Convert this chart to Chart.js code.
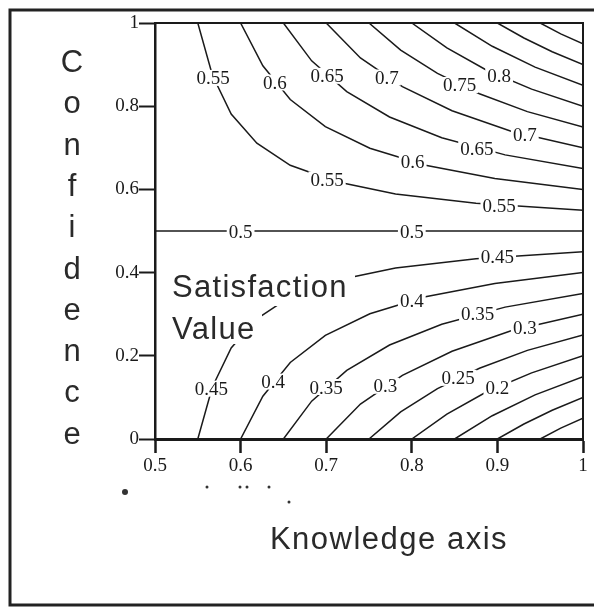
<!DOCTYPE html>
<html>
<head>
<meta charset="utf-8">
<title>Satisfaction Value contours</title>
<script src="https://cdn.jsdelivr.net/npm/chart.js@4.4.1/dist/chart.umd.min.js"></script>
<style>
  html, body { margin: 0; padding: 0; background: #fff; }
  canvas { display: block; }
</style>
</head>
<body>
<canvas id="chart" width="594" height="607"></canvas>
<script>
// Axis ticks
const xTicks = [0.5, 0.6, 0.7, 0.8, 0.9, 1];
const yTicks = [0, 0.2, 0.4, 0.6, 0.8, 1];

// Contour lines, [knowledge, confidence]
const line95 = [[0.95, 1], [0.974, 0.974], [1, 0.95]];
const line90 = [[0.9, 1], [0.931, 0.964], [0.964, 0.931], [1, 0.9]];
const line85 = [[0.85, 1], [0.894, 0.944], [0.944, 0.894], [1, 0.85]];
const line80 = [[0.8, 1], [0.841, 0.94], [0.887, 0.887], [0.94, 0.841], [1, 0.8]];
const line75 = [[0.75, 1], [0.787, 0.935], [0.83, 0.879], [0.879, 0.83], [0.935, 0.787], [1, 0.75]];
const line70 = [[0.7, 1], [0.74, 0.916], [0.789, 0.847], [0.847, 0.789], [0.916, 0.74], [1, 0.7]];
const line65 = [[0.65, 1], [0.683, 0.909], [0.724, 0.835], [0.774, 0.774], [0.835, 0.724], [0.909, 0.683], [1, 0.65]];
const line60 = [[0.6, 1], [0.626, 0.897], [0.658, 0.816], [0.699, 0.751], [0.751, 0.699], [0.816, 0.658], [0.897, 0.626], [1, 0.6]];
const line55 = [[0.55, 1], [0.567, 0.875], [0.589, 0.781], [0.619, 0.711], [0.658, 0.658], [0.711, 0.619], [0.781, 0.589], [0.875, 0.567], [1, 0.55]];
const line50 = [[0.5, 0.5], [1, 0.5]];
const line45 = [[0.55, 0], [0.567, 0.125], [0.589, 0.219], [0.619, 0.289], [0.658, 0.342], [0.711, 0.381], [0.781, 0.411], [0.875, 0.433], [1, 0.45]];
const line40 = [[0.6, 0], [0.626, 0.103], [0.658, 0.184], [0.699, 0.249], [0.751, 0.301], [0.816, 0.342], [0.897, 0.374], [1, 0.4]];
const line35 = [[0.65, 0], [0.683, 0.091], [0.724, 0.165], [0.774, 0.226], [0.835, 0.276], [0.909, 0.317], [1, 0.35]];
const line30 = [[0.7, 0], [0.74, 0.084], [0.789, 0.153], [0.847, 0.211], [0.916, 0.26], [1, 0.3]];
const line25 = [[0.75, 0], [0.787, 0.065], [0.83, 0.121], [0.879, 0.17], [0.935, 0.213], [1, 0.25]];
const line20 = [[0.8, 0], [0.841, 0.06], [0.887, 0.113], [0.94, 0.159], [1, 0.2]];
const line15 = [[0.85, 0], [0.894, 0.056], [0.944, 0.106], [1, 0.15]];
const line10 = [[0.9, 0], [0.931, 0.036], [0.964, 0.069], [1, 0.1]];
const line05 = [[0.95, 0], [0.974, 0.026], [1, 0.05]];

// Inline contour labels: text, knowledge, confidence
const contourLabels = [
    ['0.55', 0.568, 0.868], ['0.6', 0.640, 0.857], ['0.65', 0.701, 0.873],
    ['0.7', 0.771, 0.869], ['0.75', 0.856, 0.851], ['0.8', 0.902, 0.873],
    ['0.7', 0.932, 0.731], ['0.65', 0.876, 0.699], ['0.6', 0.801, 0.666],
    ['0.55', 0.701, 0.624], ['0.55', 0.902, 0.562],
    ['0.5', 0.6, 0.5], ['0.5', 0.8, 0.5],
    ['0.45', 0.9, 0.438], ['0.4', 0.8, 0.333], ['0.35', 0.877, 0.301], ['0.3', 0.932, 0.268],
    ['0.45', 0.566, 0.121], ['0.4', 0.638, 0.138], ['0.35', 0.70, 0.125],
    ['0.3', 0.769, 0.128], ['0.25', 0.854, 0.147], ['0.2', 0.9, 0.125]
];

const contours = [line95, line90, line85, line80, line75, line70, line65, line60, line55, line50,
                  line45, line40, line35, line30, line25, line20, line15, line10, line05];

const INK = '#1a1a1a';
const SERIF = '"Liberation Serif", "Times New Roman", serif';
const SANS = '"Liberation Sans", Arial, sans-serif';

// Paper background, frame, titles and labels
const decorations = {
    id: 'decorations',
    beforeDraw(chart) {
        const ctx = chart.ctx;
        ctx.save();
        ctx.fillStyle = '#fff';
        ctx.fillRect(0, 0, chart.width, chart.height);
        ctx.restore();
    },
    afterDatasetsDraw(chart) {
        const ctx = chart.ctx;
        const xs = chart.scales.x, ys = chart.scales.y;
        ctx.save();

        // contour labels with white gap behind them
        ctx.font = '19px ' + SERIF;
        ctx.textAlign = 'center';
        ctx.textBaseline = 'alphabetic';
        contourLabels.forEach(([txt, kx, cy]) => {
            const px = xs.getPixelForValue(kx);
            const py = ys.getPixelForValue(cy);
            const w = ctx.measureText(txt).width;
            ctx.fillStyle = '#fff';
            ctx.fillRect(px - w / 2 - 2, py - 8, w + 4, 16);
            ctx.fillStyle = INK;
            ctx.fillText(txt, px, py + 6.5);
        });

        // "Satisfaction Value" annotation
        ctx.font = '31px ' + SANS;
        ctx.textAlign = 'left';
        if ('letterSpacing' in ctx) ctx.letterSpacing = '1.3px';
        ctx.fillStyle = '#fff';
        ctx.fillRect(168, 266, 187, 40);
        ctx.fillRect(168, 308, 94, 36);
        ctx.fillStyle = '#2a2a2a';
        ctx.fillText('Satisfaction', 172, 297);
        ctx.fillText('Value', 172, 339);
        ctx.restore();

        // top and right edges of the plot box
        const a = chart.chartArea;
        ctx.save();
        ctx.strokeStyle = INK;
        ctx.lineWidth = 2;
        ctx.beginPath();
        ctx.moveTo(a.left, a.top);
        ctx.lineTo(a.right, a.top);
        ctx.lineTo(a.right, a.bottom);
        ctx.stroke();
        ctx.restore();
    },
    afterDraw(chart) {
        const ctx = chart.ctx;
        ctx.save();

        // outer frame of the figure
        ctx.strokeStyle = '#222';
        ctx.lineWidth = 3;
        ctx.beginPath();
        ctx.moveTo(594, 10);
        ctx.lineTo(10, 10);
        ctx.lineTo(10, 605);
        ctx.lineTo(594, 605);
        ctx.stroke();

        // stacked y title
        ctx.fillStyle = '#2a2a2a';
        ctx.font = '31px ' + SANS;
        ctx.textAlign = 'center';
        ctx.textBaseline = 'alphabetic';
        'Confidence'.split('').forEach((ch, i) => {
            ctx.fillText(ch, 72, 72 + i * 41.3);
        });

        // x title
        if ('letterSpacing' in ctx) ctx.letterSpacing = '1.5px';
        ctx.font = '31px ' + SANS;
        ctx.fillText('Knowledge axis', 389, 549);

        // leftover specks of the scan under the axis
        ctx.fillStyle = '#333';
        [[125, 492, 3], [207, 487, 1.5], [240, 487, 1.5], [247, 487, 1.5], [269, 487, 1.5], [289, 502, 1.5]]
            .forEach(([x, y, r]) => { ctx.beginPath(); ctx.arc(x, y, r, 0, Math.PI * 2); ctx.fill(); });
        ctx.restore();
    }
};

document.addEventListener('DOMContentLoaded', function() {
    const ctx = document.getElementById('chart').getContext('2d');

    new Chart(ctx, {
        type: 'scatter',
        data: {
            datasets: contours.map(pts => ({
                data: pts.map(([x, y]) => ({ x: x, y: y })),
                showLine: true,
                borderColor: INK,
                borderWidth: 1.5,
                pointRadius: 0,
                tension: 0
            }))
        },
        options: {
            responsive: false,
            animation: false,
            devicePixelRatio: 1,
            layout: { padding: { left: 0, top: 23, right: 11, bottom: 0 } },
            plugins: {
                legend: { display: false },
                tooltip: { enabled: false }
            },
            scales: {
                x: {
                    type: 'linear',
                    min: 0.5,
                    max: 1,
                    afterBuildTicks: s => { s.ticks = xTicks.map(v => ({ value: v })); },
                    afterFit: s => { s.height = 168; },
                    ticks: {
                        font: { family: SERIF, size: 19 },
                        color: INK,
                        padding: 2,
                        maxRotation: 0,
                        autoSkip: false,
                        callback: v => String(v)
                    },
                    grid: {
                        drawOnChartArea: false,
                        tickLength: 14,
                        tickWidth: 2.5,
                        tickColor: INK
                    },
                    border: { color: INK, width: 3 }
                },
                y: {
                    type: 'linear',
                    min: 0,
                    max: 1,
                    afterBuildTicks: s => { s.ticks = yTicks.map(v => ({ value: v })); },
                    afterFit: s => { s.width = 155; },
                    ticks: {
                        font: { family: SERIF, size: 19 },
                        color: INK,
                        padding: 0,
                        autoSkip: false,
                        callback: v => String(v)
                    },
                    grid: {
                        drawOnChartArea: false,
                        tickLength: 16,
                        tickWidth: 2,
                        tickColor: INK
                    },
                    border: { color: INK, width: 2.5 }
                }
            }
        },
        plugins: [decorations]
    });
});
</script>
</body>
</html>
